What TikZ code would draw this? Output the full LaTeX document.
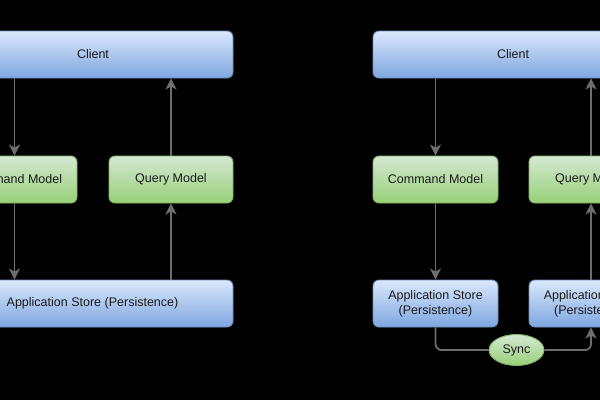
\documentclass[tikz,border=0pt]{standalone}
\usepackage{fontspec}
\setmainfont{Liberation Sans}
\usetikzlibrary{arrows.meta,shapes.geometric,calc}
\definecolor{bluetop}{HTML}{DAE8FC}
\definecolor{bluebot}{HTML}{7EA6E0}
\definecolor{blueline}{HTML}{6C8EBF}
\definecolor{greentop}{HTML}{D5E8D4}
\definecolor{greenbot}{HTML}{97D077}
\definecolor{greenline}{HTML}{82B366}
\definecolor{arrowgray}{HTML}{6E6E6E}
\definecolor{txt}{HTML}{1A1A1A}
\tikzset{
  base/.style={rounded corners=6pt, line width=0.9pt, inner sep=0pt, text=txt,
    font=\fontsize{12.5}{15}\selectfont, align=center},
  bluebox/.style={base, draw=blueline, top color=bluetop, bottom color=bluebot},
  greenbox/.style={base, draw=greenline, top color=greentop, bottom color=greenbot},
  syncnode/.style={ellipse, draw=greenline, line width=0.9pt, top color=greentop, bottom color=greenbot,
    inner sep=0pt, text=txt, font=\fontsize{12.5}{15}\selectfont},
  arr/.style={draw=arrowgray, line width=1.8pt, -{Stealth[length=11pt,width=11pt,inset=3pt]}},
}
\begin{document}
\begin{tikzpicture}[x=1pt,y=-1pt]
\useasboundingbox (0,0) rectangle (600,400);
\fill[black] (0,0) rectangle (600,400);
\clip (0,0) rectangle (600,400);
% left diagram
\node[bluebox, minimum width=280pt, minimum height=47pt] (lcl) at (93,54.5) {Client};
\node[greenbox, minimum width=125pt, minimum height=47pt] (lcmd) at (14.5,179.5) {Command Model};
\node[greenbox, minimum width=124pt, minimum height=47pt] (lqry) at (171,179.5) {Query Model};
\node[bluebox, minimum width=281pt, minimum height=47pt] (lapp) at (92.5,303.5) {Application Store (Persistence)};
\draw[arr] (lcl.south -| lcmd.north) -- (lcmd.north);
\draw[arr] (lcmd.south) -- (lcmd.south |- lapp.north);
\draw[arr] (lqry.south |- lapp.north) -- (lqry.south);
\draw[arr] (lqry.north) -- (lqry.north |- lcl.south);
% right diagram
\node[bluebox, minimum width=280pt, minimum height=47pt] (rcl) at (513,54.5) {Client};
\node[greenbox, minimum width=125pt, minimum height=47pt] (rcmd) at (435.5,179.5) {Command Model};
\node[greenbox, minimum width=124pt, minimum height=47pt] (rqry) at (591,179.5) {Query Model};
\node[bluebox, minimum width=125pt, minimum height=47pt] (rappa) at (435.5,303.5) {Application Store\\(Persistence)};
\node[bluebox, minimum width=124pt, minimum height=47pt] (rappb) at (591,303.5) {Application Store\\(Persistence)};
\node[syncnode, minimum width=55pt, minimum height=31pt] (sync) at (516.5,350) {Sync};
\draw[arr] (rcl.south -| rcmd.north) -- (rcmd.north);
\draw[arr] (rcmd.south) -- (rappa.north);
\draw[arr] (rappb.north) -- (rqry.south);
\draw[arr] (rqry.north) -- (rqry.north |- rcl.south);
\draw[draw=arrowgray, line width=1.8pt, rounded corners=6pt] (rappa.south) -- (rappa.south |- sync.west) -- (sync.west);
\draw[arr, rounded corners=6pt] (sync.east) -- (sync.east -| rappb.south) -- (rappb.south);
\end{tikzpicture}
\end{document}
